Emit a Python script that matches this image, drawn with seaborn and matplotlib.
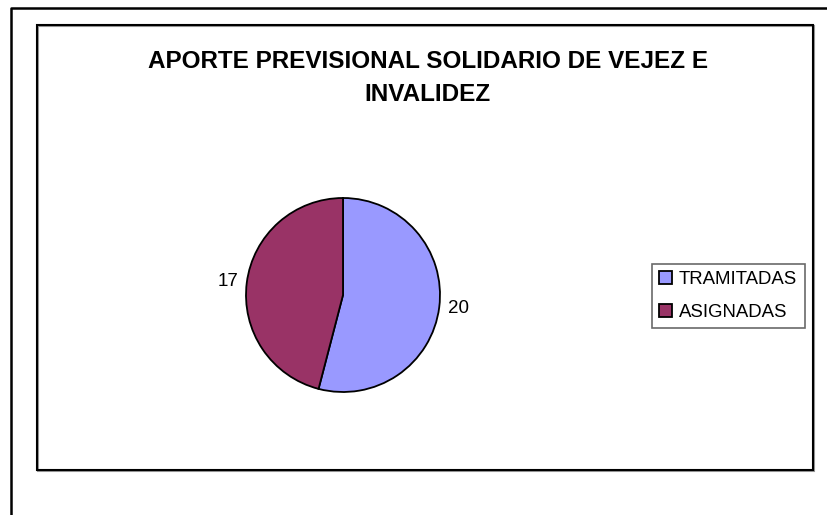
import matplotlib
matplotlib.use("Agg")
import matplotlib.pyplot as plt
from matplotlib.lines import Line2D
from matplotlib.patches import Rectangle
import seaborn as sns

# ── Data ───────────────────────────────────────────────────────────────────────
categories = ["TRAMITADAS", "ASIGNADAS"]
values = [20, 17]
colors = ["#9999FF", "#993366"]
title = "APORTE PREVISIONAL SOLIDARIO DE VEJEZ E\nINVALIDEZ"

sns.set_theme(style="white")
plt.rcParams["font.family"] = ["Liberation Sans", "DejaVu Sans"]
plt.rcParams["text.color"] = "black"

W, H = 828, 515
fig = plt.figure(figsize=(W / 100, H / 100), dpi=100)
fig.patch.set_facecolor("white")


def fx(px):
    return px / W


def fy(py):
    return 1 - py / H


# outer page border (left and top only visible)
fig.add_artist(Line2D([fx(11), fx(11), fx(830)], [fy(520), fy(8), fy(8)],
                      color="black", lw=1.8, transform=fig.transFigure))

# chart area border with light shadow
fig.add_artist(Rectangle((fx(38), fy(471)), fx(813) - fx(37), fy(25) - fy(470),
                         fill=False, edgecolor="#999999", lw=1.5,
                         transform=fig.transFigure))
fig.add_artist(Rectangle((fx(37), fy(470)), fx(813) - fx(37), fy(25) - fy(470),
                         fill=False, edgecolor="black", lw=1.5,
                         transform=fig.transFigure))

# pie
cx, cy, r = 343, 295, 97
half = 1.25 * r
ax = fig.add_axes([fx(cx - half), fy(cy + half), 2 * half / W, 2 * half / H])
wedges, texts = ax.pie(values, labels=[str(v) for v in values], colors=colors,
                       startangle=90, counterclock=False, labeldistance=1.09,
                       wedgeprops=dict(edgecolor="black", linewidth=1.3),
                       textprops=dict(fontsize=13.5, color="black"))
ax.set_aspect("equal")

fig.text(fx(428), fy(78), title, ha="center", va="center", fontsize=17.5,
         fontweight="bold", linespacing=1.6, color="black")

leg = ax.legend(wedges, categories, loc="center left",
                bbox_to_anchor=(fx(652), fy(296)), bbox_transform=fig.transFigure,
                frameon=True, fancybox=False, fontsize=13.4, handlelength=0.7,
                handleheight=0.7, handletextpad=0.35, borderpad=0.4,
                labelspacing=0.85, borderaxespad=0)
for t in leg.get_texts():
    t.set_color("black")
leg.get_frame().set_edgecolor("#444444")
leg.get_frame().set_linewidth(1.2)

fig.savefig("out.png", dpi=100)
